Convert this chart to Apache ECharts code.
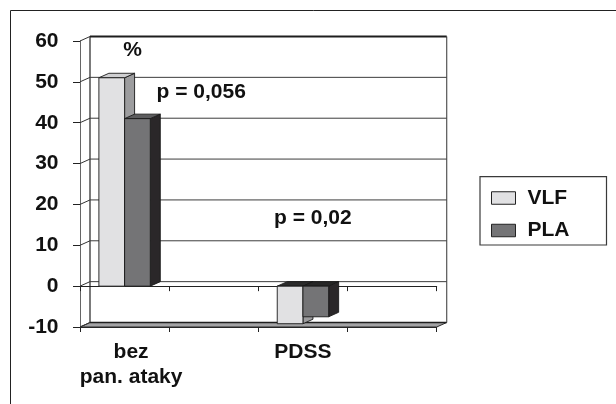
<!DOCTYPE html>
<html>
<head>
<meta charset="utf-8">
<script src="https://cdn.jsdelivr.net/npm/echarts@6/dist/echarts.min.js"></script>
<style>
  html, body { margin: 0; padding: 0; background: #ffffff; }
  #chart { width: 616px; height: 404px; }
</style>
</head>
<body>
<div id="chart"></div>
<script>
// Category slots along the floor; the empty slots keep the two groups apart
const categories = ['bez\npan. ataky', '', 'PDSS', ''];
const seriesNames = ['VLF', 'PLA'];
const vlfValues = [51, null, -9.2, null];
const plaValues = [41, null, -7.5, null];
const yTicks = [-10, 0, 10, 20, 30, 40, 50, 60];
const noteTexts = ['%', 'p = 0,056', 'p = 0,02'];

const FONT = '"Liberation Sans", Arial, Helvetica, sans-serif';
const FS = 21;
const DX = 10;      // depth offset of the back wall (px)
const DY = -4.5;
const BAR_W = 25.7;

const faces = {
  VLF: { front: '#e1e1e3', top: '#cfcfd1', side: '#9c9c9e', topNeg: '#2b2b2b' },
  PLA: { front: '#747476', top: '#5c5c5e', side: '#2a2729', topNeg: '#262626' }
};

const chart = echarts.init(document.getElementById('chart'), null, { renderer: 'canvas' });

// back wall, side wall diagonals and the floor slab, one item per value tick
function renderFrame(params, api) {
  const cs = params.coordSys;
  const v = api.value(1);
  const y = api.coord([0, v])[1];
  const x0 = cs.x, x1 = cs.x + cs.width;
  const yTop = cs.y, yBot = cs.y + cs.height;
  const children = [];
  const yMin = yTicks[0], yMax = yTicks[yTicks.length - 1];

  if (v === yMin) {
    children.push({
      type: 'polygon',
      shape: { points: [[x0, y], [x1, y], [x1 + DX, y + DY], [x0 + DX, y + DY]] },
      style: { fill: '#a3a3a5', stroke: '#2a2a2a', lineWidth: 1 }
    });
    children.push({
      type: 'line',
      shape: { x1: x0 + DX, y1: y + DY, x2: x1 + DX, y2: y + DY },
      style: { stroke: '#1e1e1e', lineWidth: 1.6 }
    });
    // back wall edges
    children.push({
      type: 'line',
      shape: { x1: x0 + DX, y1: yTop + DY, x2: x0 + DX, y2: yBot + DY },
      style: { stroke: '#222', lineWidth: 1.2 }
    });
    children.push({
      type: 'line',
      shape: { x1: x1 + DX, y1: yTop + DY, x2: x1 + DX, y2: yBot + DY },
      style: { stroke: '#555', lineWidth: 1.2 }
    });
  } else {
    children.push({
      type: 'line',
      shape: { x1: x0 + DX, y1: y + DY, x2: x1 + DX, y2: y + DY },
      style: { stroke: v === yMax ? '#1e1e1e' : '#3c3c3c', lineWidth: v === yMax ? 1.8 : 1 }
    });
  }
  children.push({
    type: 'line',
    shape: { x1: x0, y1: y, x2: x0 + DX, y2: y + DY },
    style: { stroke: '#333', lineWidth: 1 }
  });
  return { type: 'group', children: children };
}

function barRenderer(slot, colors) {
  return function (params, api) {
    const v = api.value(1);
    if (v === null || v === undefined || isNaN(v)) return null;
    const c = api.value(0);
    const base = api.coord([c, 0]);
    const tip = api.coord([c, v]);
    const xl = base[0] + (slot - 1) * BAR_W;
    const xr = xl + BAR_W;
    const yHi = Math.min(base[1], tip[1]);
    const yLo = Math.max(base[1], tip[1]);
    const edge = { stroke: '#1a1a1a', lineWidth: 0.9 };
    return {
      type: 'group',
      children: [
        {
          type: 'polygon',
          shape: { points: [[xr, yHi], [xr + DX, yHi + DY], [xr + DX, yLo + DY], [xr, yLo]] },
          style: Object.assign({ fill: colors.side }, edge)
        },
        {
          type: 'polygon',
          shape: { points: [[xl, yHi], [xr, yHi], [xr + DX, yHi + DY], [xl + DX, yHi + DY]] },
          style: Object.assign({ fill: v < 0 ? colors.topNeg : colors.top }, edge)
        },
        {
          type: 'rect',
          shape: { x: xl, y: yHi, width: BAR_W, height: yLo - yHi },
          style: Object.assign({ fill: colors.front }, edge)
        }
      ]
    };
  };
}

const labelStyle = { fontFamily: FONT, fontWeight: 'bold', fontSize: FS, color: '#111' };

const option = {
  animation: false,
  backgroundColor: '#ffffff',
  grid: { left: 80, right: 179.3, top: 41, bottom: 77 },
  xAxis: [
    {
      type: 'category',
      data: categories,
      position: 'bottom',
      boundaryGap: true,
      axisLine: { show: true, onZero: false, lineStyle: { color: '#222', width: 1 } },
      axisTick: { show: true, length: 5, lineStyle: { color: '#222' } },
      axisLabel: Object.assign({
        interval: 0,
        margin: 12.5,
        lineHeight: 25,
        formatter: function (val, idx) {
          if (idx !== 0) return val;
          return val.split('\n').map(function (s) { return '{s|' + s + '}'; }).join('\n');
        },
        rich: {
          s: Object.assign({ padding: [0, 0, 0, 13], lineHeight: 25 }, labelStyle)
        }
      }, labelStyle)
    },
    {
      type: 'category',
      data: categories,
      position: 'bottom',
      axisLine: { show: true, onZero: true, lineStyle: { color: '#222', width: 1 } },
      axisTick: { show: true, length: 5, lineStyle: { color: '#222' } },
      axisLabel: { show: false }
    }
  ],
  yAxis: {
    type: 'value',
    min: yTicks[0],
    max: yTicks[yTicks.length - 1],
    interval: 10,
    axisLine: { show: true, lineStyle: { color: '#666', width: 1 } },
    axisTick: { show: true, length: 7, lineStyle: { color: '#222' } },
    splitLine: { show: false },
    axisLabel: Object.assign({ margin: 21.5 }, labelStyle)
  },
  legend: {
    orient: 'vertical',
    left: 480,
    top: 176.7,
    borderColor: '#3a3a3a',
    borderWidth: 1.2,
    padding: [10.8, 37, 4, 11],
    itemWidth: 24,
    itemHeight: 12.5,
    itemGap: 11.5,
    icon: 'rect',
    textStyle: Object.assign({ padding: [0, 0, 0, 7] }, labelStyle),
    data: [
      { name: seriesNames[0], itemStyle: { color: faces.VLF.front, borderColor: '#222', borderWidth: 1 } },
      { name: seriesNames[1], itemStyle: { color: faces.PLA.front, borderColor: '#222', borderWidth: 1 } }
    ]
  },
  graphic: [
    {
      type: 'rect',
      shape: { x: 10.5, y: 10.5, width: 700, height: 700 },
      style: { fill: 'none', stroke: '#222', lineWidth: 1 },
      silent: true, z: -10
    },
    {
      type: 'text', x: 132.5, y: 50.5,
      style: { text: noteTexts[0], font: 'bold ' + FS + 'px ' + FONT, fill: '#111', textAlign: 'center', textVerticalAlign: 'middle' },
      z: 10
    },
    {
      type: 'text', x: 156.5, y: 92,
      style: { text: noteTexts[1], font: 'bold ' + FS + 'px ' + FONT, fill: '#111', textAlign: 'left', textVerticalAlign: 'middle' },
      z: 10
    },
    {
      type: 'text', x: 274, y: 218,
      style: { text: noteTexts[2], font: 'bold ' + FS + 'px ' + FONT, fill: '#111', textAlign: 'left', textVerticalAlign: 'middle' },
      z: 10
    }
  ],
  series: [
    {
      name: 'frame',
      type: 'custom',
      z: 1,
      silent: true,
      xAxisIndex: 0,
      renderItem: renderFrame,
      data: yTicks.map(function (t) { return [0, t]; })
    },
    {
      name: seriesNames[0],
      type: 'custom',
      z: 3,
      xAxisIndex: 0,
      itemStyle: { color: faces.VLF.front, borderColor: '#222', borderWidth: 1 },
      renderItem: barRenderer(0, faces.VLF),
      data: vlfValues.map(function (v, i) { return [i, v]; })
    },
    {
      name: seriesNames[1],
      type: 'custom',
      z: 4,
      xAxisIndex: 0,
      itemStyle: { color: faces.PLA.front, borderColor: '#222', borderWidth: 1 },
      renderItem: barRenderer(1, faces.PLA),
      data: plaValues.map(function (v, i) { return [i, v]; })
    }
  ]
};

chart.setOption(option);
</script>
</body>
</html>
